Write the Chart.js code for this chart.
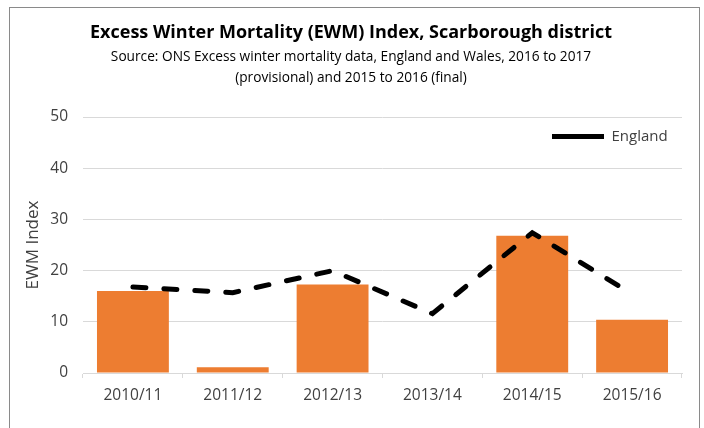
<!DOCTYPE html>
<html>
<head>
<meta charset="utf-8">
<script src="https://cdn.jsdelivr.net/npm/chart.js@4.4.1/dist/chart.umd.min.js"></script>
<style>
  html, body { margin: 0; padding: 0; background: #fff; }
  #wrap { position: relative; width: 704px; height: 428px; overflow: hidden; }
  #frame { position: absolute; left: 9px; top: 7px; width: 689px; height: 440px; border: 1px solid #8a8a8a; pointer-events: none; }
  canvas { position: absolute; left: 0; top: 0; }
</style>
</head>
<body>
<div id="wrap">
  <canvas id="c" width="704" height="428"></canvas>
  <div id="frame"></div>
</div>
<script>
const categories = ["2010/11", "2011/12", "2012/13", "2013/14", "2014/15", "2015/16"];
const scarboroughValues = [16.0, 1.1, 17.3, null, 26.8, 10.4];
const englandValues = [16.8, 15.7, 20.0, 11.6, 27.4, 15.4];
const yTicks = [0, 10, 20, 30, 40, 50];

const FONT = "'Open Sans', sans-serif";
const TXT = '#404040';

const legendMover = {
  id: 'legendMover',
  afterLayout(chart) {
    const lg = chart.legend;
    if (!lg) return;
    const w = lg.width, h = lg.height;
    lg.left = chart.chartArea.right - 140;
    lg.right = lg.left + w;
    lg.top = chart.chartArea.top + 2;
    lg.bottom = lg.top + h;
  }
};

new Chart(document.getElementById('c'), {
  data: {
    labels: categories,
    datasets: [
      {
        type: 'line',
        label: 'England',
        data: englandValues,
        borderColor: '#000000',
        backgroundColor: '#000000',
        borderWidth: 5,
        borderDash: [13, 18],
        borderCapStyle: 'round',
        pointRadius: 0,
        fill: false,
        tension: 0,
        order: 0
      },
      {
        type: 'bar',
        label: 'Scarborough',
        data: scarboroughValues,
        backgroundColor: '#ED7D31',
        borderWidth: 0,
        barPercentage: 0.72,
        categoryPercentage: 1.0,
        order: 1
      }
    ]
  },
  options: {
    responsive: false,
    animation: false,
    layout: { padding: { left: 20, right: 22, top: 0, bottom: 0 } },
    plugins: {
      title: {
        display: true,
        text: 'Excess Winter Mortality (EWM) Index, Scarborough district',
        color: '#000000',
        font: { family: FONT, size: 18, weight: 'bold', lineHeight: 1.2 },
        padding: { top: 22, bottom: 3 }
      },
      subtitle: {
        display: true,
        text: ['Source: ONS Excess winter mortality data, England and Wales, 2016 to 2017', '(provisional) and 2015 to 2016 (final)'],
        color: '#000000',
        font: { family: FONT, size: 13.7, lineHeight: 1.55 },
        padding: { top: 0, bottom: 28 }
      },
      legend: {
        display: true,
        position: 'chartArea',
        align: 'start',
        labels: {
          usePointStyle: true,
          pointStyle: 'line',
          pointStyleWidth: 52,
          padding: 10,
          color: TXT,
          font: { family: FONT, size: 15 },
          filter: (item) => item.text === 'England'
        }
      },
      tooltip: { enabled: false }
    },
    scales: {
      x: {
        grid: { display: true, offset: true, drawOnChartArea: false, drawTicks: true, tickLength: 5, color: '#d9d9d9' },
        border: { display: true, color: '#d9d9d9' },
        ticks: { color: TXT, font: { family: FONT, size: 15.5 }, padding: 8, maxRotation: 0 },
        afterFit: (s) => { s.height = 55; }
      },
      y: {
        min: 0,
        max: 50,
        afterBuildTicks: (s) => { s.ticks = yTicks.map(v => ({ value: v })); },
        grid: { color: '#d9d9d9', drawTicks: false, lineWidth: 1 },
        border: { display: false },
        ticks: { color: TXT, font: { family: FONT, size: 15.5 }, padding: 15 },
        title: { display: true, text: 'EWM Index', color: TXT, font: { family: FONT, size: 17 }, padding: { top: 3, bottom: 0 } },
        afterFit: (s) => { s.width = 63; }
      }
    }
  },
  plugins: [legendMover]
});
</script>
</body>
</html>
